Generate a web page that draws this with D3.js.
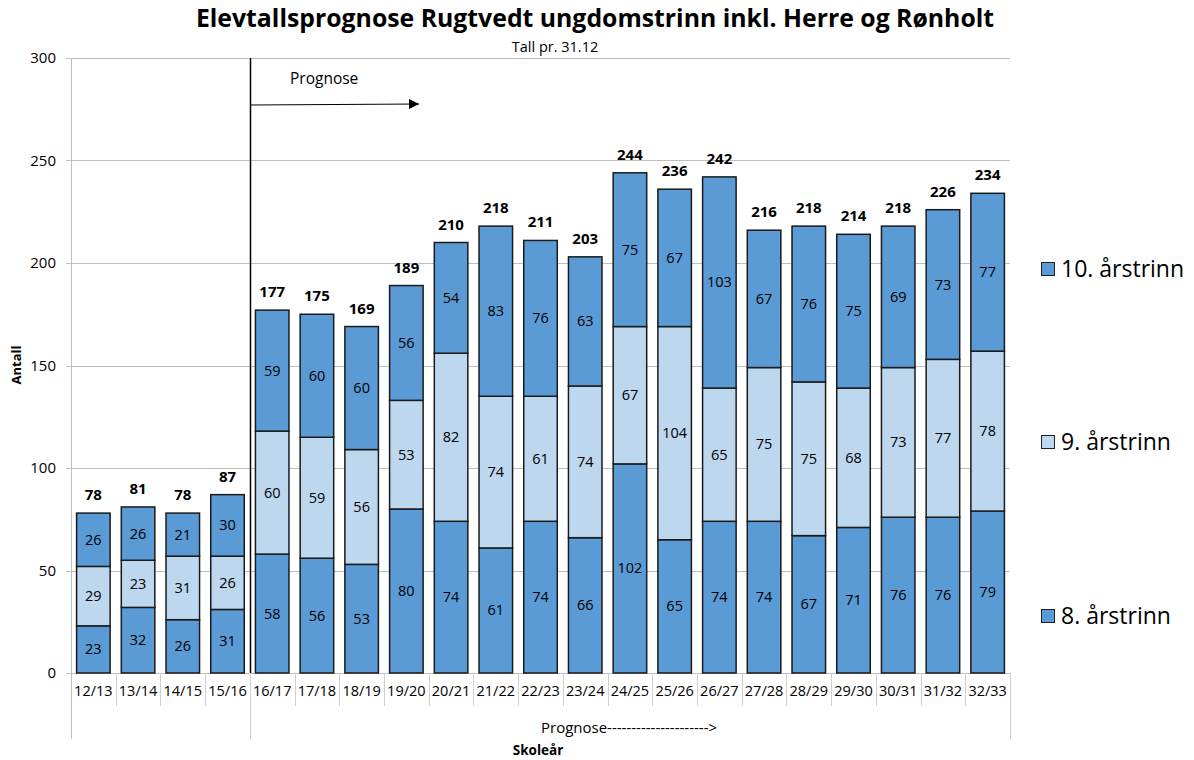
<!DOCTYPE html>
<html>
<head>
<meta charset="utf-8">
<script src="https://cdn.jsdelivr.net/npm/d3@7"></script>
<style>
  body { margin: 0; background: #fff; }
  text { font-family: "Open Sans", "Noto Sans", sans-serif; fill: #000; }
</style>
</head>
<body>
<script>
// skoleår
var years = ["12/13","13/14","14/15","15/16","16/17","17/18","18/19","19/20","20/21","21/22","22/23",
             "23/24","24/25","25/26","26/27","27/28","28/29","29/30","30/31","31/32","32/33"];
var trinn8  = [23,32,26,31,58,56,53,80,74,61,74,66,102,65,74,74,67,71,76,76,79];
var trinn9  = [29,23,31,26,60,59,56,53,82,74,61,74,67,104,65,75,75,68,73,77,78];
var trinn10 = [26,26,21,30,59,60,60,56,54,83,76,63,75,67,103,67,76,75,69,73,77];
var seriesNames = ["8. årstrinn","9. årstrinn","10. årstrinn"];
var yTicks = [0,50,100,150,200,250,300];

var colors = {"8. årstrinn":"#5b9bd5","9. årstrinn":"#bdd7ee","10. årstrinn":"#5b9bd5"};

var W = 1194, H = 760;
var pLeft = 71, pRight = 1010, pTop = 58, pBottom = 673;

var svg = d3.select("body").append("svg")
    .attr("width", W)
    .attr("height", H);

var rows = years.map(function(y, i){
    return {year:y, "8. årstrinn":trinn8[i], "9. årstrinn":trinn9[i], "10. årstrinn":trinn10[i]};
});
var stacked = d3.stack().keys(seriesNames)(rows);

var x = d3.scaleBand().domain(years).range([pLeft, pRight]).paddingInner(0.25).paddingOuter(0.125);
var y = d3.scaleLinear().domain([0, 300]).range([pBottom, pTop]);

// gridlines
svg.append("g").selectAll("line")
    .data(yTicks)
    .enter().append("line")
    .attr("x1", pLeft - 5).attr("x2", pRight)
    .attr("y1", function(d){ return Math.round(y(d)) + 0.5; })
    .attr("y2", function(d){ return Math.round(y(d)) + 0.5; })
    .attr("stroke", "#bfbfbf").attr("stroke-width", 1);

// y tick labels
svg.append("g").selectAll("text")
    .data(yTicks)
    .enter().append("text")
    .attr("x", 56).attr("y", function(d){ return y(d) + 5; })
    .attr("text-anchor", "end")
    .style("font-size", "15px")
    .text(function(d){ return d; });

// left axis line
svg.append("line")
    .attr("x1", pLeft + 0.5).attr("x2", pLeft + 0.5)
    .attr("y1", pTop).attr("y2", 739)
    .attr("stroke", "#bfbfbf");

// category separators under axis
var step = x.step();
var seps = d3.range(1, years.length + 1).map(function(i){ return pLeft + i * step; });
svg.append("g").selectAll("line")
    .data(seps)
    .enter().append("line")
    .attr("x1", function(d){ return Math.round(d) + 0.5; })
    .attr("x2", function(d){ return Math.round(d) + 0.5; })
    .attr("y1", pBottom)
    .attr("y2", function(d, i){ return (i == 3 || i == years.length - 1) ? 739 : 706; })
    .attr("stroke", "#d0d0d0");

// bars
var g = svg.append("g");
stacked.forEach(function(layer){
    g.append("g").selectAll("rect")
        .data(layer)
        .enter().append("rect")
        .attr("x", function(d){ return x(d.data.year); })
        .attr("width", x.bandwidth())
        .attr("y", function(d){ return y(d[1]); })
        .attr("height", function(d){ return y(d[0]) - y(d[1]); })
        .attr("fill", colors[layer.key])
        .attr("stroke", "#1a1a1a")
        .attr("stroke-width", 1.5);
    g.append("g").selectAll("text")
        .data(layer)
        .enter().append("text")
        .attr("x", function(d){ return x(d.data.year) + x.bandwidth() / 2; })
        .attr("y", function(d){ return (y(d[0]) + y(d[1])) / 2 + 5; })
        .attr("text-anchor", "middle")
        .style("font-size", "14.5px")
        .text(function(d){ return d[1] - d[0]; });
});

// totals
svg.append("g").selectAll("text")
    .data(rows)
    .enter().append("text")
    .attr("x", function(d){ return x(d.year) + x.bandwidth() / 2; })
    .attr("y", function(d){ return y(d["8. årstrinn"] + d["9. årstrinn"] + d["10. årstrinn"]) - 13; })
    .attr("text-anchor", "middle")
    .style("font-size", "15px")
    .style("font-weight", "bold")
    .text(function(d){ return d["8. årstrinn"] + d["9. årstrinn"] + d["10. årstrinn"]; });

// x labels
svg.append("g").selectAll("text")
    .data(years)
    .enter().append("text")
    .attr("x", function(d){ return x(d) + x.bandwidth() / 2; })
    .attr("y", 696)
    .attr("text-anchor", "middle")
    .style("font-size", "14.5px")
    .text(function(d){ return d; });

// prognose divider + arrow
var divX = Math.round(pLeft + 4 * step) + 0.5;
svg.append("line")
    .attr("x1", divX).attr("x2", divX)
    .attr("y1", pTop).attr("y2", pBottom)
    .attr("stroke", "#000").attr("stroke-width", 1.5);
svg.append("defs").append("marker")
    .attr("id", "arr").attr("viewBox", "0 0 10 10")
    .attr("refX", 10).attr("refY", 5)
    .attr("markerWidth", 10).attr("markerHeight", 10)
    .attr("markerUnits", "userSpaceOnUse")
    .attr("orient", "auto")
    .append("path").attr("d", "M0,0L10,5L0,10Z").attr("fill", "#000");
svg.append("line")
    .attr("x1", divX).attr("x2", 419)
    .attr("y1", 105).attr("y2", 104)
    .attr("stroke", "#000").attr("stroke-width", 1)
    .attr("marker-end", "url(#arr)");
svg.append("text")
    .attr("x", 290).attr("y", 84)
    .style("font-size", "15.5px")
    .text("Prognose");

svg.append("text")
    .attr("x", 541).attr("y", 733)
    .style("font-size", "15px")
    .text("Prognose--------------------->");

// titles
svg.append("text")
    .attr("x", 595).attr("y", 27)
    .attr("text-anchor", "middle")
    .style("font-size", "24.8px")
    .style("font-weight", "bold")
    .text("Elevtallsprognose Rugtvedt ungdomstrinn inkl. Herre og Rønholt");
svg.append("text")
    .attr("x", 555).attr("y", 52)
    .attr("text-anchor", "middle")
    .style("font-size", "14.5px")
    .text("Tall pr. 31.12");

svg.append("text")
    .attr("x", 538).attr("y", 755)
    .attr("text-anchor", "middle")
    .style("font-size", "13.5px")
    .style("font-weight", "bold")
    .text("Skoleår");

svg.append("text")
    .attr("transform", "translate(21,365) rotate(-90)")
    .attr("text-anchor", "middle")
    .style("font-size", "13px")
    .style("font-weight", "bold")
    .text("Antall");

// legend
var legendY = {"10. årstrinn":269, "9. årstrinn":442, "8. årstrinn":616};
var leg = svg.append("g").selectAll("g")
    .data(seriesNames.slice().reverse())
    .enter().append("g")
    .attr("transform", function(d){ return "translate(1041," + legendY[d] + ")"; });
leg.append("rect")
    .attr("x", 0.5).attr("y", -6.5)
    .attr("width", 13).attr("height", 13)
    .attr("fill", function(d){ return colors[d]; })
    .attr("stroke", "#222").attr("stroke-width", 1);
leg.append("text")
    .attr("x", 20).attr("y", 8)
    .style("font-size", "23px")
    .text(function(d){ return d; });
</script>
</body>
</html>
